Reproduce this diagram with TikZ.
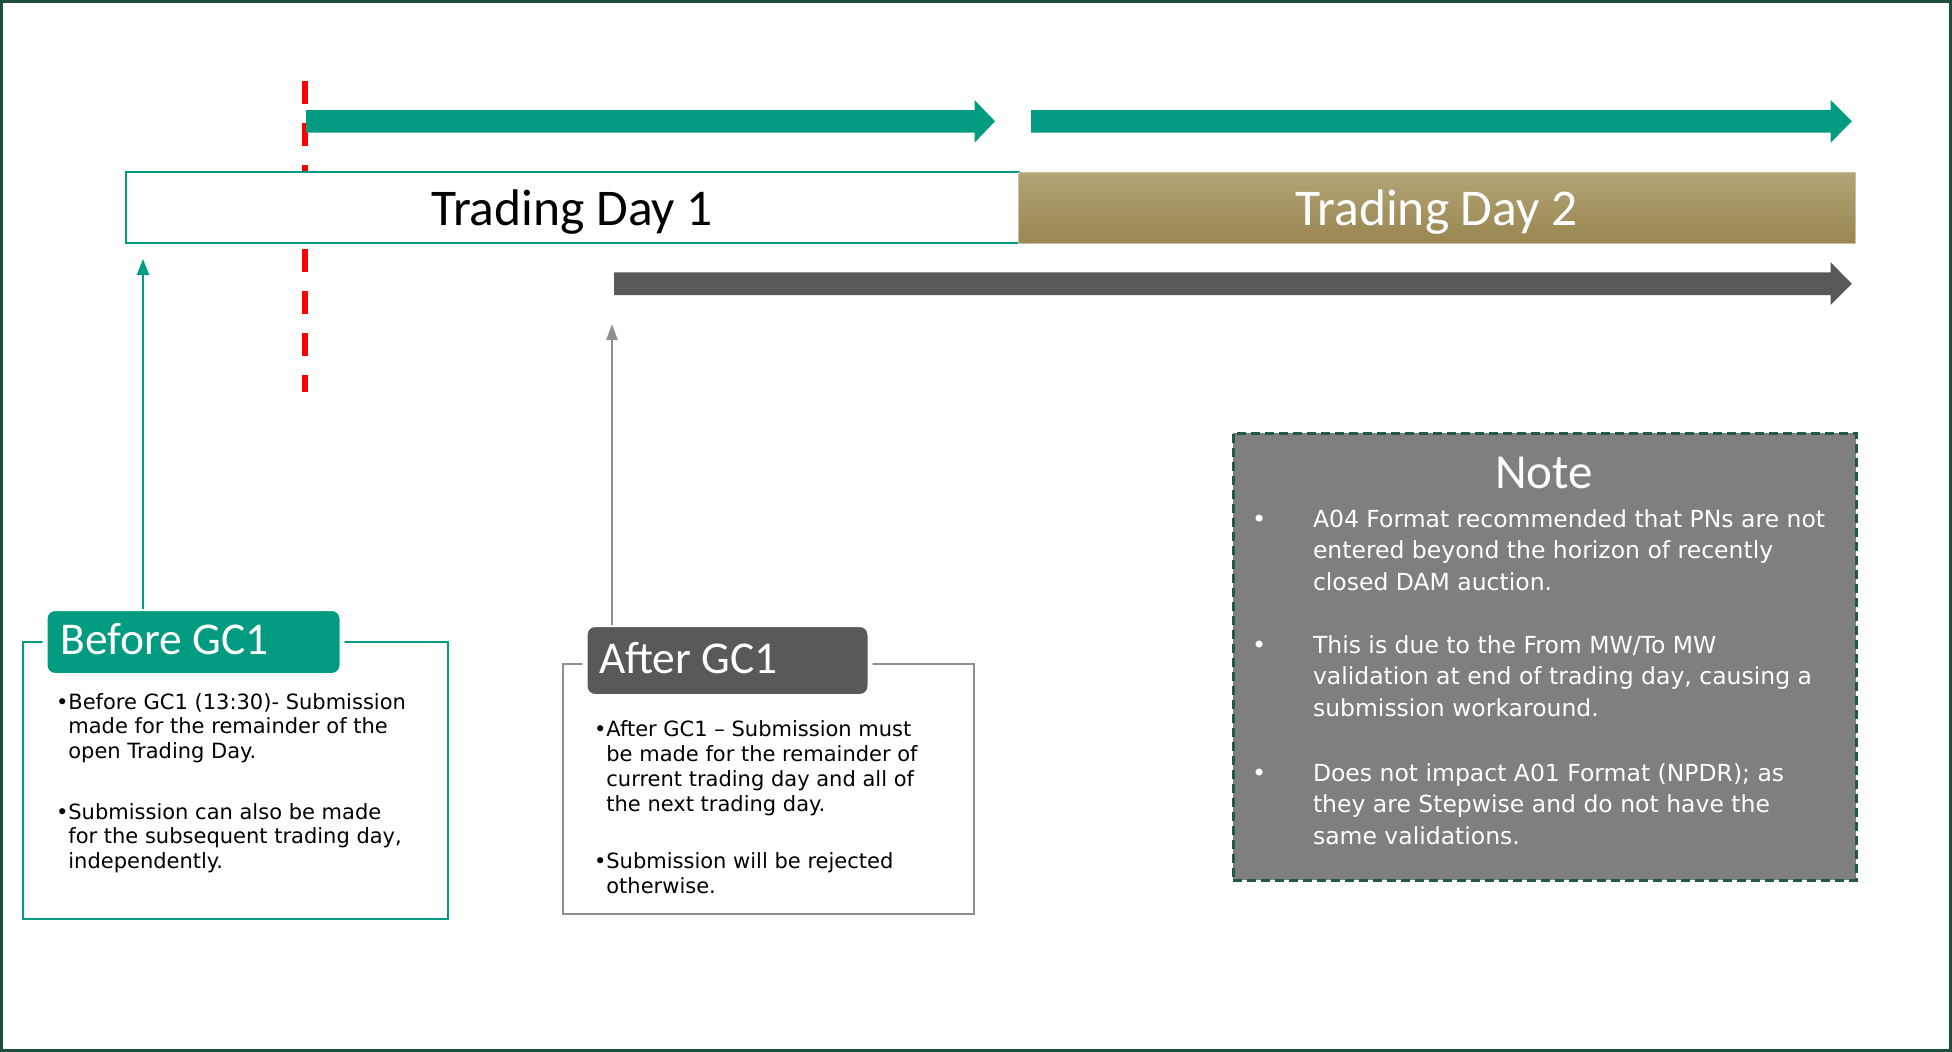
\documentclass[tikz,border=0pt]{standalone}
\usepackage{fontspec}
\setmainfont{DejaVu Sans}
\newfontfamily\calib{Carlito}
\usetikzlibrary{arrows.meta}
\definecolor{tealA}{HTML}{009B80}
\definecolor{darkgrey}{HTML}{595959}
\definecolor{framegrey}{HTML}{8F8F8F}
\definecolor{notegrey}{HTML}{7F7F7F}
\definecolor{notedash}{HTML}{1F5B47}
\definecolor{outerline}{HTML}{1D4E40}
\definecolor{goldtop}{HTML}{B2A577}
\definecolor{goldbot}{HTML}{9A8650}
\definecolor{redline}{HTML}{FF0000}
\tikzset{
  lbl/.style={inner sep=0pt, outer sep=0pt},
  dayfont/.style={font=\calib\fontsize{51.5pt}{60pt}\selectfont},
  tabfont/.style={font=\calib\fontsize{45.5pt}{54pt}\selectfont, text=white},
  bodytext/.style={lbl, anchor=base west, font=\fontsize{21pt}{24.5pt}\selectfont},
  notetext/.style={lbl, anchor=base west, text=white, font=\fontsize{23.5pt}{31.7pt}\selectfont},
  boxnode/.style={lbl, anchor=north west},
  tabbox/.style={boxnode, rounded corners=10pt, draw=white, line width=5pt},
  upteal/.style={draw=tealA, line width=2.2pt, -{Triangle[length=16pt,width=12pt]}},
  upgrey/.style={draw=framegrey, line width=2.5pt, -{Triangle[length=16pt,width=11pt]}},
}
\newcommand{\nbul}{\makebox[61pt][l]{\fontsize{24pt}{24pt}\selectfont •}}
\begin{document}
\begin{tikzpicture}[x=1pt,y=-1pt]
\useasboundingbox (0,0) rectangle (1952,1052);
\draw[outerline, line width=3pt] (1.5,1.5) rectangle (1950.5,1050.5);

% red dashed GC1 marker
\coordinate (gctop) at (305,81);
\coordinate (gcbot) at (305,391.7);
\draw[redline, line width=6pt, dash pattern=on 23.3pt off 18.7pt] (gctop) -- (gcbot);

% green block arrows
\fill[tealA] (306,110) -- (974.5,110) -- (974.5,100) -- (995,121.3) -- (974.5,142.7) -- (974.5,132.7) -- (306,132.7) -- cycle;
\fill[tealA] (1031,110) -- (1830.6,110) -- (1830.6,100) -- (1851.8,121.3) -- (1830.6,142.7) -- (1830.6,132.7) -- (1031,132.7) -- cycle;
% grey block arrow
\fill[darkgrey] (614,272.3) -- (1830.6,272.3) -- (1830.6,262.3) -- (1851.8,283.7) -- (1830.6,305.1) -- (1830.6,295) -- (614,295) -- cycle;

% trading day boxes
\node[boxnode, draw=tealA, line width=2.5pt, fill=white, minimum width=893pt, minimum height=71pt] (td1) at (126,172) {};
\node[lbl, dayfont, anchor=base] (td1t) at (572,225) {Trading Day 1};
\node[boxnode, top color=goldtop, bottom color=goldbot, draw=goldtop!70!white, line width=1pt, minimum width=837pt, minimum height=71pt] (td2) at (1018,172) {};
\node[lbl, dayfont, anchor=base, text=white] (td2t) at (1436.5,225) {Trading Day 2};

% Before GC1 box
\node[boxnode, draw=tealA, line width=2.5pt, minimum width=425pt, minimum height=277pt] (bframe) at (23,642) {};
\node[tabbox, fill=tealA, minimum width=297pt, minimum height=67pt] (btab) at (45,608.5) {};
\node[lbl, tabfont, anchor=base west] (btabt) at (60.5,654) {Before GC1};
\node[bodytext] (btxt) at (56,709) {\vtop{\baselineskip=24.5pt
\hbox{•Before GC1 (13:30)- Submission}
\hbox{\phantom{•}made for the remainder of the}
\hbox{\phantom{•}open Trading Day.}
\vskip36.5pt
\hbox{•Submission can also be made}
\hbox{\phantom{•}for the subsequent trading day,}
\hbox{\phantom{•}independently.}}};
\coordinate (btip) at (143,259);
\draw[upteal] (btab.north -| btip) -- (btip);

% After GC1 box
\node[boxnode, draw=framegrey, line width=2.5pt, minimum width=411pt, minimum height=250pt] (aframe) at (563,664) {};
\node[tabbox, fill=darkgrey, minimum width=285pt, minimum height=72pt] (atab) at (585,624.5) {};
\node[lbl, tabfont, anchor=base west] (atabt) at (599,673) {After GC1};
\node[bodytext] (atxt) at (594,736) {\vtop{\baselineskip=25pt
\hbox{•After GC1 – Submission must}
\hbox{\phantom{•}be made for the remainder of}
\hbox{\phantom{•}current trading day and all of}
\hbox{\phantom{•}the next trading day.}
\vskip32pt
\hbox{•Submission will be rejected}
\hbox{\phantom{•}otherwise.}}};
\coordinate (atip) at (612,324);
\draw[upgrey] (atab.north -| atip) -- (atip);

% Note box
\node[boxnode, fill=notegrey, draw=notedash, line width=3pt, dash pattern=on 9pt off 5pt, minimum width=623pt, minimum height=447pt] (note) at (1233,433) {};
\node[lbl, anchor=base, text=white, font=\calib\fontsize{49pt}{58pt}\selectfont] (notet) at (1544,488) {Note};
\node[notetext] (ntxt) at (1252,527) {\vtop{\baselineskip=31.7pt
\hbox{\nbul A04 Format recommended that PNs are not}
\hbox{\kern61pt entered beyond the horizon of recently}
\hbox{\kern61pt closed DAM auction.}
\vskip31pt
\hbox{\nbul This is due to the From MW/To MW}
\hbox{\kern61pt validation at end of trading day, causing a}
\hbox{\kern61pt submission workaround.}
\vskip33pt
\hbox{\nbul Does not impact A01 Format (NPDR); as}
\hbox{\kern61pt they are Stepwise and do not have the}
\hbox{\kern61pt same validations.}}};
\end{tikzpicture}
\end{document}
